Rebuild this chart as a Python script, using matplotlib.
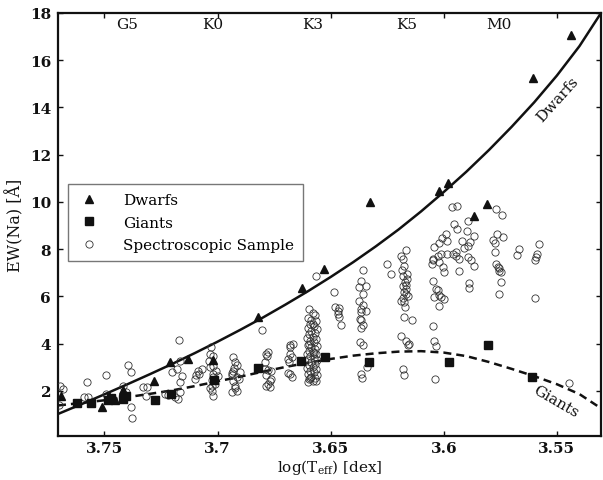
import matplotlib
matplotlib.use('Agg')
import matplotlib.pyplot as plt

plt.rcParams['font.family'] = ['DejaVu Serif']
plt.rcParams['mathtext.fontset'] = 'dejavuserif'

# ---------------- data ----------------
dwarf_x = [3.7691, 3.7512, 3.7478, 3.7455, 3.7419, 3.7282, 3.7209, 3.7129, 3.7018,
           3.6820, 3.6628, 3.6530, 3.6328, 3.6019, 3.5980, 3.5868, 3.5809, 3.5607, 3.5437]
dwarf_ew = [1.78, 1.33, 1.80, 1.60, 2.04, 2.40, 3.21, 3.34, 3.30,
            5.14, 6.35, 7.16, 10.01, 10.48, 10.81, 9.39, 9.93, 15.25, 17.07]

giant_x = [3.7619, 3.7560, 3.7485, 3.7470, 3.7416, 3.7405, 3.7276, 3.7206,
           3.7015, 3.6820, 3.6629, 3.6526, 3.6331, 3.5975, 3.5806, 3.5610]
giant_ew = [1.48, 1.48, 1.62, 1.70, 1.65, 1.78, 1.63, 1.87,
            2.44, 2.98, 3.28, 3.45, 3.24, 3.24, 3.95, 2.58]

spec_x = [
    3.7695, 3.7681, 3.7701, 3.7575, 3.7590, 3.7572,
    3.7492, 3.7494, 3.7397, 3.7382, 3.7419, 3.7404, 3.7382, 3.7379,
    3.7330, 3.7313, 3.7315, 3.7232, 3.7218,
    3.7170, 3.7166, 3.7203, 3.7181, 3.7159, 3.7166, 3.7166, 3.7174, 3.7095, 3.7085,
    3.7070, 3.7100, 3.7084, 3.7190,
    3.7029, 3.7032, 3.7039, 3.7019, 3.7019, 3.7032, 3.7005, 3.7022, 3.7019, 3.7025,
    3.7010, 3.7026, 3.7032, 3.7026, 3.7019, 3.7000,
    3.6931, 3.6923, 3.6913, 3.6931, 3.6929, 3.6938, 3.6937, 3.6915, 3.6931, 3.6923,
    3.6916, 3.6922, 3.6938, 3.6905, 3.6900,
    3.6803, 3.6784, 3.6775, 3.6780, 3.6791, 3.6790, 3.6762, 3.6775, 3.6784, 3.6762,
    3.6777, 3.6784, 3.6767, 3.6770,
    3.6681, 3.6667, 3.6680, 3.6681, 3.6672, 3.6684, 3.6678, 3.6687, 3.6672, 3.6690,
    3.6595, 3.6580, 3.6570, 3.6600, 3.6585, 3.6565, 3.6590, 3.6575, 3.6600, 3.6560,
    3.6585, 3.6570, 3.6595, 3.6580, 3.6605, 3.6565, 3.6590, 3.6575, 3.6600, 3.6560,
    3.6585, 3.6570, 3.6595, 3.6580, 3.6605, 3.6565, 3.6590, 3.6575, 3.6600, 3.6560,
    3.6585, 3.6570, 3.6595, 3.6580, 3.6605, 3.6565, 3.6590, 3.6575, 3.6600, 3.6560,
    3.6585, 3.6570, 3.6595, 3.6580, 3.6565, 3.6600, 3.6590, 3.6575, 3.6595, 3.6580,
    3.6566, 3.6484, 3.6482, 3.6468, 3.6462, 3.6469, 3.6463, 3.6453,
    3.6359, 3.6365, 3.6373, 3.6344, 3.6358, 3.6375, 3.6358, 3.6365, 3.6343, 3.6366,
    3.6372, 3.6366, 3.6358, 3.6365, 3.6372, 3.6357, 3.6341, 3.6366, 3.6360,
    3.6249, 3.6234,
    3.6169, 3.6190, 3.6178, 3.6175, 3.6163, 3.6180, 3.6161, 3.6172, 3.6181, 3.6168,
    3.6175, 3.6169, 3.6160, 3.6188, 3.6175, 3.6170, 3.6175, 3.6140, 3.6187, 3.6165,
    3.6153, 3.6160, 3.6178, 3.6175, 3.6183, 3.6165, 3.6178,
    3.6043, 3.6022, 3.6007, 3.5992, 3.5986, 3.6024, 3.6046, 3.6053, 3.6049, 3.6020,
    3.6014, 3.5986, 3.5997, 3.6005, 3.6046, 3.6036, 3.6027, 3.6019, 3.6043, 3.6014,
    3.5998, 3.6021, 3.6047, 3.6045, 3.6034, 3.6037,
    3.5962, 3.5941, 3.5955, 3.5941, 3.5918, 3.5960, 3.5946, 3.5931, 3.5947, 3.5894,
    3.5880, 3.5886, 3.5932, 3.5889, 3.5890, 3.5891, 3.5896, 3.5867, 3.5891, 3.5866,
    3.5910,
    3.5769, 3.5744, 3.5766, 3.5740, 3.5781, 3.5775, 3.5775, 3.5767, 3.5755, 3.5754,
    3.5748, 3.5756, 3.5762, 3.5745,
    3.5667, 3.5676, 3.5580, 3.5590, 3.5592, 3.5595, 3.5595, 3.5446,
]
spec_ew = [
    2.22, 2.06, 1.40, 2.37, 1.73, 1.75,
    2.65, 1.87, 3.10, 2.80, 2.22, 1.94, 1.31, 0.85,
    2.16, 2.16, 1.78, 1.86, 1.82,
    4.16, 3.28, 2.80, 2.93, 2.64, 2.36, 1.94, 1.66, 2.66, 2.86,
    2.93, 2.51, 2.72, 1.72,
    3.85, 3.57, 3.28, 3.49, 3.07, 3.00, 2.85, 2.70, 2.58, 2.45,
    2.30, 2.20, 2.10, 2.01, 1.80, 2.62,
    3.43, 3.21, 3.10, 2.86, 2.95, 2.65, 2.75, 2.60, 2.40, 2.22,
    2.01, 2.10, 1.94, 2.50, 2.78,
    4.59, 3.57, 3.64, 3.48, 3.21, 2.93, 2.86, 2.90, 2.65, 2.51,
    2.30, 2.22, 2.16, 2.40,
    3.92, 4.00, 3.85, 3.57, 3.43, 3.21, 2.72, 2.74, 2.58, 3.35,
    5.45, 5.30, 5.20, 5.10, 5.00, 4.95, 4.85, 4.75, 4.65, 4.60,
    4.55, 4.45, 4.40, 4.30, 4.25, 4.20, 4.10, 4.05, 3.95, 3.90,
    3.85, 3.78, 3.70, 3.65, 3.58, 3.55, 3.48, 3.40, 3.35, 3.30,
    3.22, 3.15, 3.10, 3.02, 2.98, 2.92, 2.85, 2.78, 2.72, 2.68,
    2.60, 2.55, 2.48, 2.42, 2.40, 2.38, 2.55, 3.60, 4.00, 4.85,
    6.88, 6.20, 5.54, 5.40, 5.50, 5.26, 5.12, 4.79,
    7.12, 6.67, 6.40, 6.44, 6.10, 5.80, 5.64, 5.47, 5.40, 5.33,
    5.05, 4.98, 4.80, 4.66, 4.06, 3.92, 3.00, 2.70, 2.55,
    7.35, 6.95,
    7.98, 7.70, 7.57, 7.30, 6.95, 6.88, 6.73, 6.60, 6.46, 6.32,
    6.18, 6.10, 6.03, 5.82, 5.75, 5.54, 5.12, 4.98, 4.34, 4.13,
    3.99, 3.93, 2.93, 2.69, 7.10, 6.50, 5.95,
    8.08, 8.28, 8.49, 8.64, 8.35, 7.73, 7.52, 7.38, 7.59, 7.45,
    7.80, 7.80, 7.02, 7.25, 6.67, 6.32, 6.25, 6.04, 5.96, 5.96,
    5.89, 5.61, 4.76, 4.09, 3.90, 2.51,
    9.77, 9.84, 9.07, 8.85, 8.36, 7.80, 7.86, 7.60, 7.73, 7.66,
    7.52, 8.30, 7.09, 6.56, 6.35, 9.18, 8.78, 8.57, 8.15, 7.30,
    8.05,
    9.70, 9.46, 8.64, 8.53, 8.40, 8.25, 7.89, 7.37, 7.20, 7.07,
    6.60, 6.08, 7.25, 7.02,
    8.00, 7.75, 8.20, 7.80, 7.65, 7.55, 5.94, 2.34,
]

# fitted relations
dwarf_fit_x = [3.7705, 3.76, 3.75, 3.74, 3.73, 3.72, 3.71, 3.70, 3.69, 3.68, 3.67, 3.66,
               3.65, 3.64, 3.63, 3.62, 3.61, 3.60, 3.59, 3.58, 3.57, 3.56, 3.55, 3.54, 3.5305]
dwarf_fit_ew = [1.02, 1.44, 1.85, 2.27, 2.70, 3.14, 3.60, 4.08, 4.58, 5.10, 5.65, 6.22,
                6.82, 7.45, 8.12, 8.83, 9.60, 10.42, 11.28, 12.20, 13.18, 14.22, 15.35, 16.60, 18.0]

giant_fit_x = [3.7705, 3.76, 3.75, 3.74, 3.73, 3.72, 3.71, 3.70, 3.69, 3.68, 3.67, 3.66,
               3.65, 3.64, 3.63, 3.62, 3.61, 3.60, 3.59, 3.58, 3.57, 3.56, 3.55, 3.54, 3.5305]
giant_fit_ew = [1.38, 1.49, 1.60, 1.73, 1.87, 2.02, 2.20, 2.40, 2.60, 2.81, 3.01, 3.19,
                3.35, 3.49, 3.59, 3.66, 3.68, 3.62, 3.47, 3.22, 2.93, 2.62, 2.28, 1.86, 1.26]

sptype_labels = ['G5', 'K0', 'K3', 'K5', 'M0']
sptype_x = [3.740, 3.702, 3.658, 3.6165, 3.5757]

x_ticks = [3.75, 3.70, 3.65, 3.60, 3.55]
x_tick_labels = ['3.75', '3.7', '3.65', '3.6', '3.55']
y_ticks = [2, 4, 6, 8, 10, 12, 14, 16, 18]

# ---------------- figure ----------------
W, H = 603, 481
fig = plt.figure(figsize=(W / 100, H / 100), dpi=100)
ax = fig.add_axes([58 / W, 1 - 436.7 / H, (601 - 58) / W, (436.7 - 14) / H])

ink = '#111111'
ax.plot(dwarf_fit_x, dwarf_fit_ew, color=ink, lw=1.8, zorder=2)
ax.plot(giant_fit_x, giant_fit_ew, color=ink, lw=1.8, ls=(0, (3.2, 2.0)), zorder=2)

h_spec, = ax.plot(spec_x, spec_ew, ls='none', marker='o', ms=5.2, mfc='none',
                  mec='#333333', mew=0.6, zorder=3, label='Spectroscopic Sample')
h_giant, = ax.plot(giant_x, giant_ew, ls='none', marker='s', ms=5.6, mfc=ink,
                   mec=ink, zorder=4, label='Giants')
h_dwarf, = ax.plot(dwarf_x, dwarf_ew, ls='none', marker='^', ms=6.0, mfc=ink,
                   mec=ink, zorder=4, label='Dwarfs')

ax.set_xlim(3.7705, 3.5305)
ax.set_ylim(0.1, 18)
ax.set_xticks(x_ticks)
ax.set_xticklabels(x_tick_labels)
ax.set_yticks(y_ticks)

for lab in ax.get_xticklabels() + ax.get_yticklabels():
    lab.set_fontweight('bold')

ax.tick_params(direction='in', length=3.5, width=1, top=True, right=True,
               labelsize=11, colors=ink)
ax.tick_params(axis='x', pad=4)
ax.tick_params(axis='y', pad=5)
for sp in ax.spines.values():
    sp.set_linewidth(1.6)
    sp.set_color(ink)

ax.set_xlabel(r'log(T$_{\rm eff}$) [dex]', fontsize=11, color=ink, labelpad=1)
ax.set_ylabel('EW(Na) [Å]', fontsize=11.5, color=ink, labelpad=4)

for lab, xv in zip(sptype_labels, sptype_x):
    ax.text(xv, 17.55, lab, ha='center', va='center', fontsize=11, color=ink)

ax.text(3.5497, 14.36, 'Dwarfs', rotation=48, ha='center', va='center',
        fontsize=11, color=ink)
ax.text(3.5504, 1.56, 'Giants', rotation=-30, ha='center', va='center',
        fontsize=11, color=ink)

leg = ax.legend(handles=[h_dwarf, h_giant, h_spec], loc='upper left',
                bbox_to_anchor=(0.018, 0.5955), borderaxespad=0, fancybox=False,
                frameon=True, edgecolor='#555555', fontsize=11, numpoints=1,
                handlelength=1.6, handletextpad=1.4, labelspacing=0.55,
                borderpad=0.6)
leg.get_frame().set_linewidth(1.0)

fig.savefig('out.png', dpi=100)
